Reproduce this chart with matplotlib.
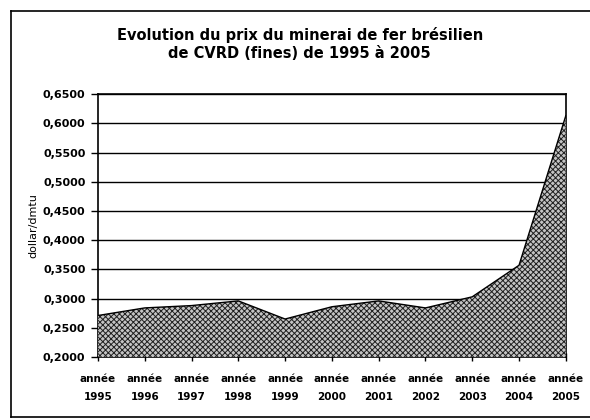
import matplotlib.pyplot as plt
import matplotlib.ticker as mticker
from matplotlib.lines import Line2D

years = ['1995', '1996', '1997', '1998', '1999', '2000',
         '2001', '2002', '2003', '2004', '2005']
prix = [0.271, 0.284, 0.288, 0.296, 0.265, 0.286,
        0.296, 0.284, 0.303, 0.357, 0.613]
xlabels = ['année\n' + y for y in years]

plt.rcParams['font.family'] = ['DejaVu Sans']
plt.rcParams['hatch.linewidth'] = 0.7
plt.rcParams['hatch.color'] = '#202020'

fig = plt.figure(figsize=(5.9, 4.2), dpi=100)
ax = fig.add_axes([0.166, 0.15, 0.793, 0.626])

x = list(range(len(years)))
ax.fill_between(x, 0.2, prix, facecolor='#c4c4c4', edgecolor='#202020',
                hatch='xxxxxx', linewidth=0, zorder=3)
ax.plot(x, prix, color='black', linewidth=1.0, zorder=4)

ax.set_xlim(0, len(years) - 1)
ax.set_ylim(0.2, 0.65)
ax.yaxis.set_major_locator(mticker.MultipleLocator(0.05))
ax.yaxis.set_major_formatter(mticker.FuncFormatter(lambda v, p: f'{v:.4f}'.replace('.', ',')))
ax.grid(axis='y', color='black', linewidth=1.0, zorder=1)

ax.set_xticks(x)
ax.set_xticklabels(xlabels, fontsize=7.5, fontweight='bold', linespacing=2.0)
ax.tick_params(axis='x', direction='inout', length=6, width=1, pad=9)
ax.tick_params(axis='y', direction='out', length=5, width=1, labelsize=8, pad=4)
for lab in ax.get_yticklabels():
    lab.set_fontweight('bold')

for s in ax.spines.values():
    s.set_color('black')
    s.set_linewidth(1.2)

ax.set_ylabel('dollar/dmtu', fontsize=8, labelpad=3)

fig.text(0.508, 0.917, 'Evolution du prix du minerai de fer brésilien',
         ha='center', va='center', fontsize=10.5, fontweight='bold')
fig.text(0.508, 0.873, 'de CVRD (fines) de 1995 à 2005',
         ha='center', va='center', fontsize=10.5, fontweight='bold')

# chart frame
fig.add_artist(Line2D([0.019, 0.019], [0.007, 0.974], color='black', linewidth=1.2))
fig.add_artist(Line2D([0.019, 1.0], [0.974, 0.974], color='black', linewidth=1.2))
fig.add_artist(Line2D([0.019, 1.0], [0.007, 0.007], color='black', linewidth=1.2))

plt.savefig('out.png', dpi=100)
